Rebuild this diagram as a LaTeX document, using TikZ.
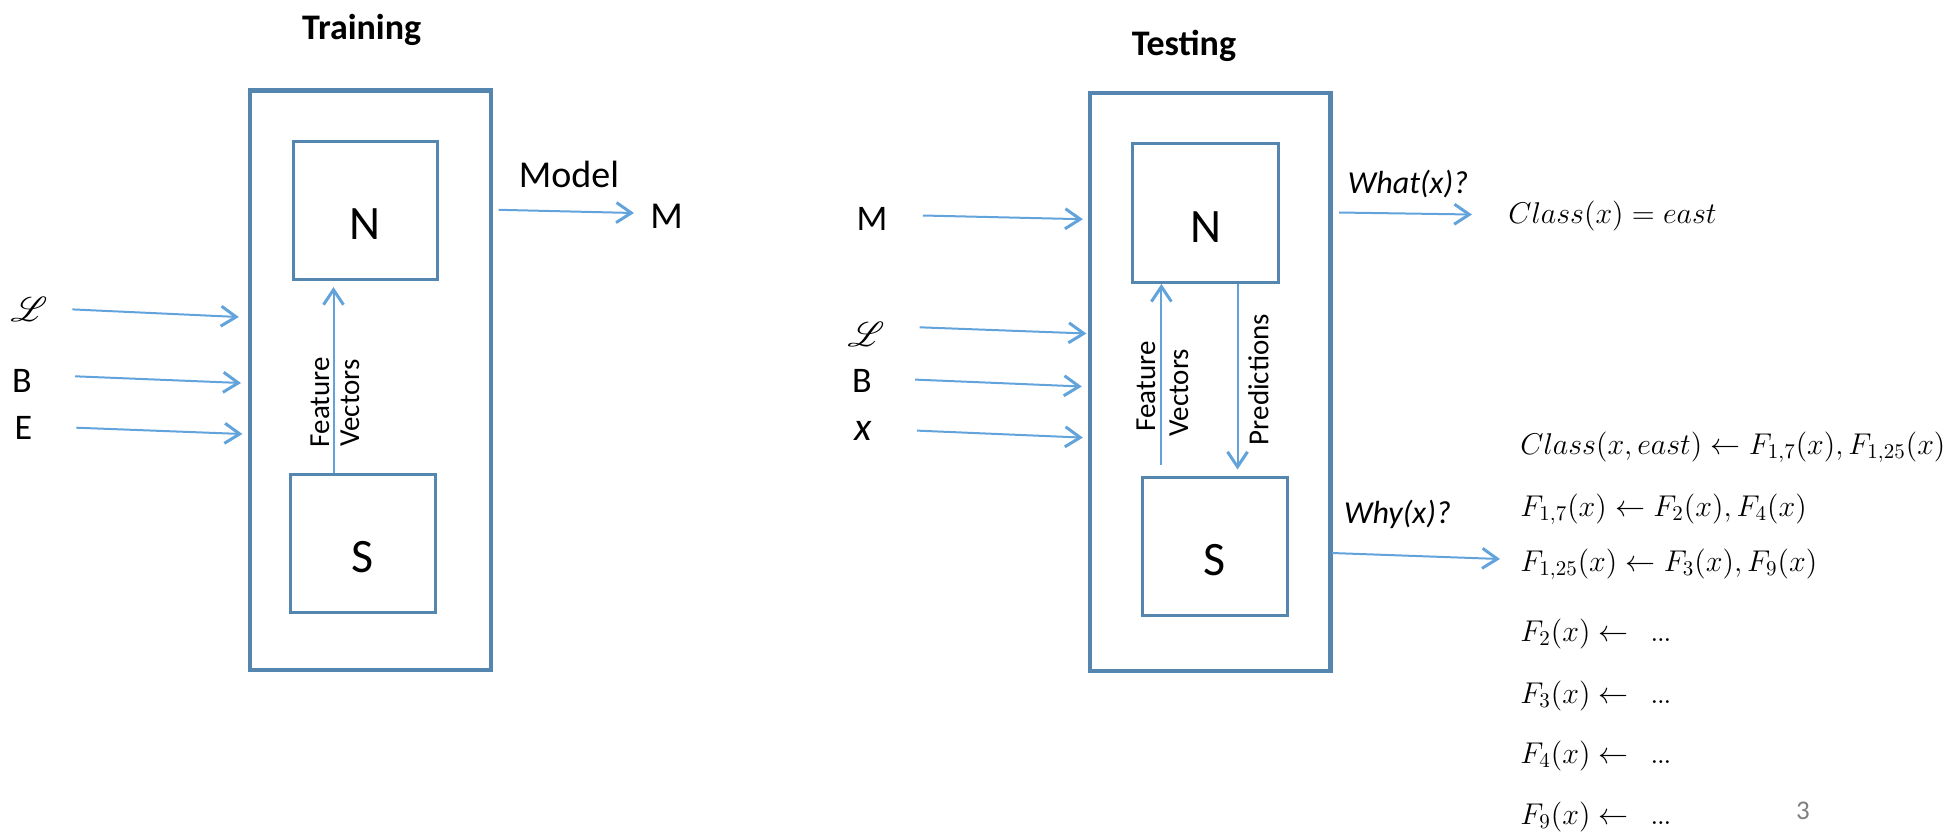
\RequirePackage{fix-cm}
\documentclass[tikz,border=0pt]{standalone}
\usepackage{mathrsfs}
\usepackage{fontspec}
\setmainfont{Carlito}
\usetikzlibrary{arrows.meta}

\definecolor{boxblue}{RGB}{84,134,176}
\definecolor{arrowblue}{RGB}{98,163,220}
\definecolor{pagegray}{RGB}{128,128,128}

\newcommand{\fsz}[1]{\fontsize{#1pt}{#1pt}\selectfont}
% compact ellipsis used in the rule bodies
\newcommand{\rdots}{{.}\mkern-1mu{.}\mkern-1mu{.}}

\tikzset{
  sysbox/.style={draw=boxblue, line width=2.4pt, inner sep=0pt},
  modbox/.style={draw=boxblue, line width=1.5pt, inner sep=0pt,
                 font=\fsz{24}, text height=29pt, text depth=0pt},
  conn/.style={arrowblue, line width=1pt,
               -{Straight Barb[length=7.5pt,width=10pt,line width=1.5pt]}},
  heading/.style={font=\fsz{18}\bfseries, inner sep=0pt, anchor=base},
  inlabel/.style={font=\fsz{18}, inner sep=0pt},
  outlabel/.style={font=\fsz{19}, inner sep=0pt},
  vlabel/.style={font=\fsz{14.5}, inner sep=0pt, rotate=90},
  query/.style={font=\fsz{16}\itshape, inner sep=0pt, anchor=base},
  logicrule/.style={font=\fsz{15}, inner sep=0pt, anchor=base west},
}

\begin{document}
\begin{tikzpicture}[x=0.5pt,y=-0.5pt]
\useasboundingbox (0,0) rectangle (1960,831);

% ---------------- Training ----------------
\node[heading] (trTitle) at (361.6,39.3) {Training};
\node[sysbox, minimum width=120.5pt, minimum height=289.75pt] (trSys) at (370.5,380.25) {};
\node[modbox, minimum width=72.25pt, minimum height=69.25pt] (trN) at (365.25,210.25) {N};
\node[modbox, minimum width=72.5pt, minimum height=69pt] (trS) at (362.5,543.5) {S};

\coordinate (trFV) at (333.5,0);
\draw[conn, shorten >=3pt] (trS.north -| trFV) -- (trN.south -| trFV);
\node[vlabel] (trFeat) at (320,402) {Feature};
\node[vlabel] (trVec) at (350,403) {Vectors};

% inputs
\node[inlabel] (trL) at (29,309) {$\mathscr{L}$};
\node[inlabel] (trB) at (22,381) {B};
\node[inlabel] (trE) at (23.5,428) {E};
\coordinate (trLs) at (72.3,309.4);  \coordinate (trLe) at (238.8,317);
\coordinate (trBs) at (75,376.3);    \coordinate (trBe) at (241,383);
\coordinate (trEs) at (76.3,427.7);  \coordinate (trEe) at (242.4,434);
\draw[conn] (trLs) -- (trLe);
\draw[conn] (trBs) -- (trBe);
\draw[conn] (trEs) -- (trEe);

% output
\node[outlabel] (trModel) at (569,174) {Model};
\node[outlabel] (trM) at (666.5,216.5) {M};
\coordinate (trMs) at (498.7,209.8); \coordinate (trMe) at (634,213);
\draw[conn] (trMs) -- (trMe);

% ---------------- Testing ----------------
\node[heading] (teTitle) at (1184,55) {Testing};
\node[sysbox, minimum width=120.25pt, minimum height=289pt] (teSys) at (1210.25,382) {};
\node[modbox, minimum width=72.85pt, minimum height=69.35pt] (teN) at (1205.75,213.05) {N};
\node[modbox, minimum width=72.75pt, minimum height=69.45pt] (teS) at (1214.75,546.45) {S};

\coordinate (teFV) at (1161.4,0);
\coordinate (tePR) at (1237.5,0);
\draw[conn, shorten <=5.5pt] (teS.north -| teFV) -- (teN.south -| teFV);
\draw[conn, shorten >=3pt] (teN.south -| tePR) -- (teS.north -| tePR);
\node[vlabel] (teFeat) at (1146,386.5) {Feature};
\node[vlabel] (teVec) at (1179,392.7) {Vectors};
\node[vlabel] (tePred) at (1258.5,379.4) {Predictions};

% inputs
\node[inlabel] (teM) at (872,219) {M};
\node[inlabel] (teL) at (866,334.5) {$\mathscr{L}$};
\node[inlabel] (teB) at (862,381) {B};
\node[inlabel, font=\fsz{20}\itshape] (teX) at (862.7,431) {x};
\coordinate (teMs) at (922.9,215.5); \coordinate (teMe) at (1082.9,219.2);
\coordinate (teLs) at (919.6,327.3); \coordinate (teLe) at (1086.4,333.5);
\coordinate (teBs) at (915,379.6);   \coordinate (teBe) at (1081.8,386.5);
\coordinate (teXs) at (916.8,430.6); \coordinate (teXe) at (1082.9,437.6);
\draw[conn] (teMs) -- (teMe);
\draw[conn] (teLs) -- (teLe);
\draw[conn] (teBs) -- (teBe);
\draw[conn] (teXs) -- (teXe);

% queries and answers
\node[query] (teWhat) at (1408,193) {What(x)?};
\coordinate (teWs) at (1339,212.5); \coordinate (teWe) at (1472,214.5);
\draw[conn] (teWs) -- (teWe);
\node[logicrule] (teClass) at (1508,223) {$Class(x) = east$};

\node[query] (teWhy) at (1397.5,523) {Why(x)?};
\coordinate (teYs) at (1332,553); \coordinate (teYe) at (1500,559);
\draw[conn] (teYs) -- (teYe);

\node[logicrule] (r1) at (1520,454) {$Class(x, east) \leftarrow F_{1,7}(x), F_{1,25}(x)$};
\node[logicrule] (r2) at (1520,516) {$F_{1,7}(x) \leftarrow F_2(x), F_4(x)$};
\node[logicrule] (r3) at (1520,571) {$F_{1,25}(x) \leftarrow F_3(x), F_9(x)$};
\node[logicrule] (r4) at (1520,641) {$F_2(x) \leftarrow\;\,\rdots$};
\node[logicrule] (r5) at (1520,703) {$F_3(x) \leftarrow\;\,\rdots$};
\node[logicrule] (r6) at (1520,763) {$F_4(x) \leftarrow\;\,\rdots$};
\node[logicrule] (r7) at (1520,824) {$F_9(x) \leftarrow\;\,\rdots$};

\node[font=\fsz{13.5}, text=pagegray, anchor=base, inner sep=0pt] (pageNo) at (1803,819) {3};
\end{tikzpicture}
\end{document}
